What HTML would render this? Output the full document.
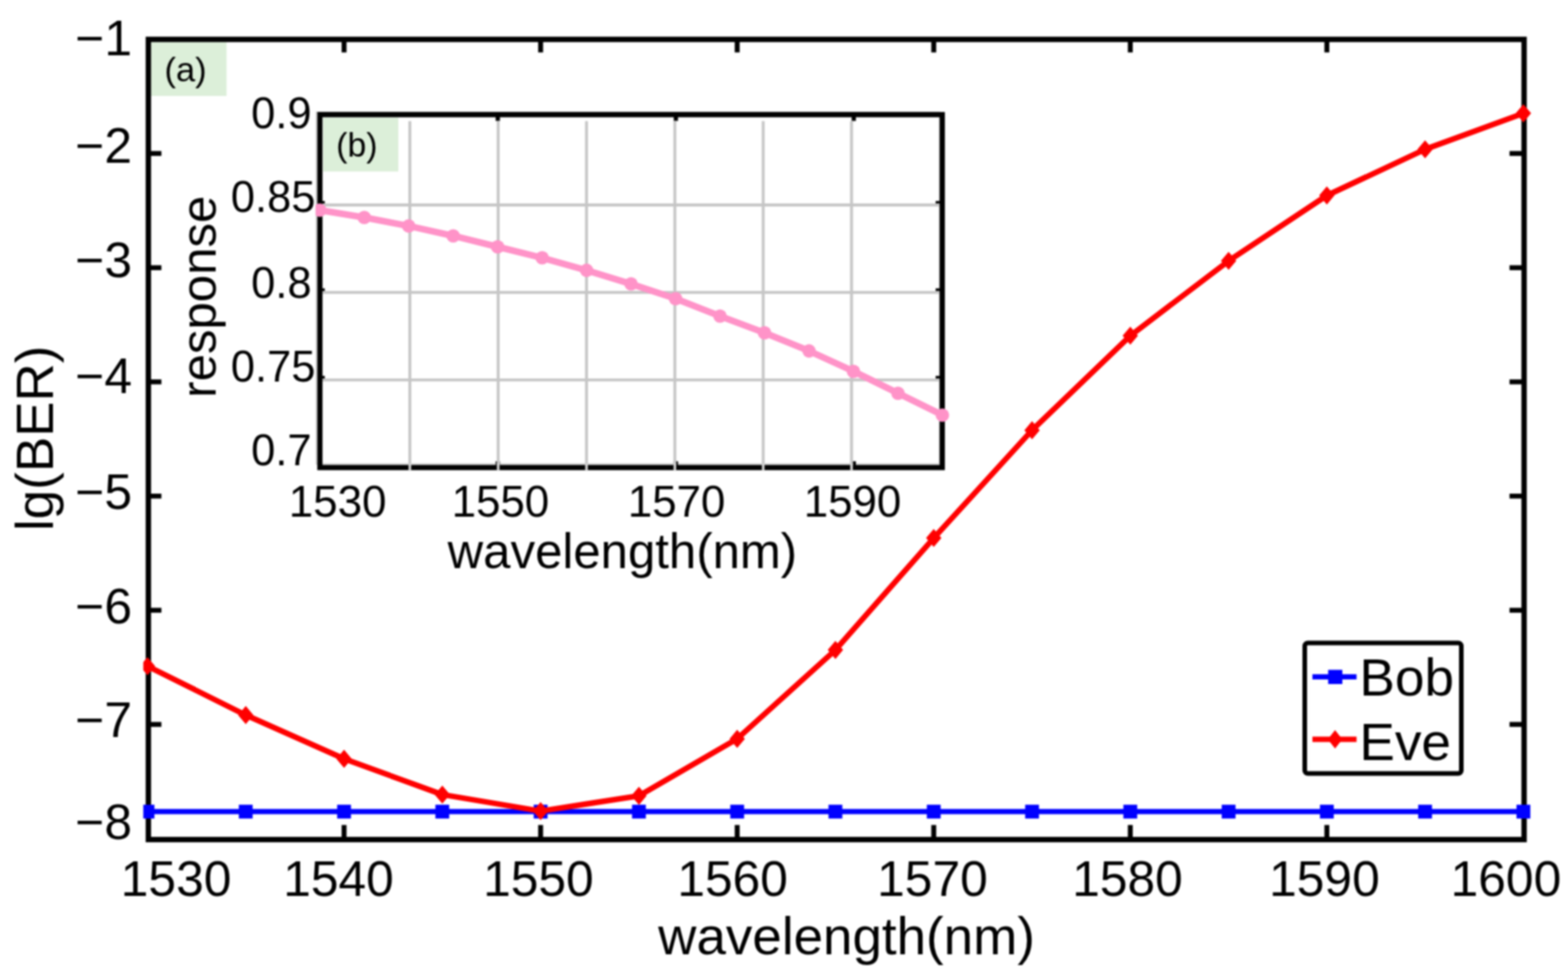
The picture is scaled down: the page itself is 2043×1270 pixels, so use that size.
<!DOCTYPE html>
<html lang="en"><head><meta charset="utf-8"><title>lg(BER)</title>
<style>
html,body{margin:0;padding:0;background:#fff;}
body{width:2043px;height:1270px;overflow:hidden;}
svg{display:block;filter:blur(0.8px);}
text{font-family:"Liberation Sans",Arial,Helvetica,sans-serif;fill:#000;}
.tk{font-size:64.8px;}
.lab{font-size:69px;}
.itk{font-size:56.6px;}
.ilab{font-size:64px;}
.tag{font-size:45px;}
.leg{font-size:69.2px;}
</style></head><body>
<svg width="2043" height="1270" viewBox="0 0 2043 1270">
<rect x="0" y="0" width="2043" height="1270" fill="#ffffff"/>
<rect x="196.8" y="55" width="98.4" height="70" fill="#dcefd9"/>
<g stroke="#000" stroke-width="6.4" fill="none">
<line x1="448.3" y1="1093.6" x2="448.3" y2="1074.6"/>
<line x1="448.3" y1="51.3" x2="448.3" y2="68.3"/>
<line x1="704.4" y1="1093.6" x2="704.4" y2="1074.6"/>
<line x1="704.4" y1="51.3" x2="704.4" y2="68.3"/>
<line x1="960.5" y1="1093.6" x2="960.5" y2="1074.6"/>
<line x1="960.5" y1="51.3" x2="960.5" y2="68.3"/>
<line x1="1216.6" y1="1093.6" x2="1216.6" y2="1074.6"/>
<line x1="1216.6" y1="51.3" x2="1216.6" y2="68.3"/>
<line x1="1472.7" y1="1093.6" x2="1472.7" y2="1074.6"/>
<line x1="1472.7" y1="51.3" x2="1472.7" y2="68.3"/>
<line x1="1728.8" y1="1093.6" x2="1728.8" y2="1074.6"/>
<line x1="1728.8" y1="51.3" x2="1728.8" y2="68.3"/>
<line x1="193.3" y1="943.6" x2="210.3" y2="943.6"/>
<line x1="1985.8" y1="943.6" x2="1966.8" y2="943.6"/>
<line x1="193.3" y1="794.9" x2="210.3" y2="794.9"/>
<line x1="1985.8" y1="794.9" x2="1966.8" y2="794.9"/>
<line x1="193.3" y1="646.2" x2="210.3" y2="646.2"/>
<line x1="1985.8" y1="646.2" x2="1966.8" y2="646.2"/>
<line x1="193.3" y1="497.4" x2="210.3" y2="497.4"/>
<line x1="1985.8" y1="497.4" x2="1966.8" y2="497.4"/>
<line x1="193.3" y1="348.7" x2="210.3" y2="348.7"/>
<line x1="1985.8" y1="348.7" x2="1966.8" y2="348.7"/>
<line x1="193.3" y1="199.9" x2="210.3" y2="199.9"/>
<line x1="1985.8" y1="199.9" x2="1966.8" y2="199.9"/>
</g>
<rect x="193.3" y="51.3" width="1792.5" height="1042.3" fill="none" stroke="#000" stroke-width="7"/>
<rect x="412" y="146" width="816" height="463" fill="#ffffff"/>
<rect x="421" y="153.2" width="98" height="70.2" fill="#dcefd9"/>
<rect x="412.2" y="146.2" width="811.8" height="458.2" fill="none" stroke="#d0d0d0" stroke-width="1.8"/>
<g stroke="#000" stroke-width="5.6" fill="none">
<line x1="648.6" y1="149.3" x2="648.6" y2="157.5"/>
<line x1="648.6" y1="609.0" x2="648.6" y2="600.8"/>
<line x1="880.6" y1="149.3" x2="880.6" y2="157.5"/>
<line x1="880.6" y1="609.0" x2="880.6" y2="600.8"/>
<line x1="1112.4" y1="149.3" x2="1112.4" y2="157.5"/>
<line x1="1112.4" y1="609.0" x2="1112.4" y2="600.8"/>
<line x1="416.8" y1="264.6" x2="423.2" y2="264.6"/>
<line x1="1227.7" y1="264.6" x2="1219.1" y2="264.6"/>
<line x1="416.8" y1="378.4" x2="423.2" y2="378.4"/>
<line x1="1227.7" y1="378.4" x2="1219.1" y2="378.4"/>
<line x1="416.8" y1="492.4" x2="423.2" y2="492.4"/>
<line x1="1227.7" y1="492.4" x2="1219.1" y2="492.4"/>
</g>
<g stroke="#c6c6c6" stroke-width="3.8" fill="none">
<line x1="419.8" y1="267.0" x2="1224.7" y2="267.0"/>
<line x1="419.8" y1="380.8" x2="1224.7" y2="380.8"/>
<line x1="419.8" y1="494.8" x2="1224.7" y2="494.8"/>
<line x1="534.0" y1="157.7" x2="534.0" y2="609.0"/>
<line x1="649.1" y1="157.7" x2="649.1" y2="609.0"/>
<line x1="764.2" y1="157.7" x2="764.2" y2="609.0"/>
<line x1="879.3" y1="157.7" x2="879.3" y2="609.0"/>
<line x1="994.4" y1="157.7" x2="994.4" y2="609.0"/>
<line x1="1109.5" y1="157.7" x2="1109.5" y2="609.0"/>
</g>
<rect x="416.8" y="149.3" width="810.9" height="459.7" fill="none" stroke="#000" stroke-width="6.8"/>
<g stroke="#d6d6d6" stroke-width="3.4" fill="none">
<line x1="534.0" y1="604.0" x2="534.0" y2="612.6"/>
<line x1="649.1" y1="604.0" x2="649.1" y2="612.6"/>
<line x1="764.2" y1="604.0" x2="764.2" y2="612.6"/>
<line x1="879.3" y1="604.0" x2="879.3" y2="612.6"/>
<line x1="994.4" y1="604.0" x2="994.4" y2="612.6"/>
<line x1="1109.5" y1="604.0" x2="1109.5" y2="612.6"/>
</g>
<clipPath id="cpi"><rect x="411.2" y="140" width="840" height="480"/></clipPath>
<g clip-path="url(#cpi)">
<polyline fill="none" stroke="#ff93c8" stroke-width="8.6" stroke-linejoin="round" stroke-linecap="butt" points="416.6,273.7 474.6,283.3 532.5,294.4 590.5,307.2 648.4,321.5 706.4,335.8 764.3,352.1 822.2,369.8 880.2,389.0 938.1,411.8 996.1,433.5 1054.1,457.1 1112.0,483.7 1170.0,512.2 1227.9,540.7"/>
<g fill="#ff93c8">
<circle cx="416.6" cy="273.7" r="8.8"/>
<circle cx="474.6" cy="283.3" r="8.8"/>
<circle cx="532.5" cy="294.4" r="8.8"/>
<circle cx="590.5" cy="307.2" r="8.8"/>
<circle cx="648.4" cy="321.5" r="8.8"/>
<circle cx="706.4" cy="335.8" r="8.8"/>
<circle cx="764.3" cy="352.1" r="8.8"/>
<circle cx="822.2" cy="369.8" r="8.8"/>
<circle cx="880.2" cy="389.0" r="8.8"/>
<circle cx="938.1" cy="411.8" r="8.8"/>
<circle cx="996.1" cy="433.5" r="8.8"/>
<circle cx="1054.1" cy="457.1" r="8.8"/>
<circle cx="1112.0" cy="483.7" r="8.8"/>
<circle cx="1170.0" cy="512.2" r="8.8"/>
<circle cx="1227.9" cy="540.7" r="8.8"/>
</g>
</g>
<clipPath id="cp"><rect x="186.7" y="40" width="1812" height="1060"/></clipPath>
<g clip-path="url(#cp)">
<polyline fill="none" stroke="#0000ff" stroke-width="6.8" points="192.2,1057.2 320.2,1057.2 448.3,1057.2 576.3,1057.2 704.4,1057.2 832.5,1057.2 960.5,1057.2 1088.5,1057.2 1216.6,1057.2 1344.7,1057.2 1472.7,1057.2 1600.8,1057.2 1728.8,1057.2 1856.8,1057.2 1984.9,1057.2"/>
<g fill="#0000ff">
<rect x="183.2" y="1048.2" width="18" height="18"/>
<rect x="311.2" y="1048.2" width="18" height="18"/>
<rect x="439.3" y="1048.2" width="18" height="18"/>
<rect x="567.3" y="1048.2" width="18" height="18"/>
<rect x="695.4" y="1048.2" width="18" height="18"/>
<rect x="823.5" y="1048.2" width="18" height="18"/>
<rect x="951.5" y="1048.2" width="18" height="18"/>
<rect x="1079.5" y="1048.2" width="18" height="18"/>
<rect x="1207.6" y="1048.2" width="18" height="18"/>
<rect x="1335.7" y="1048.2" width="18" height="18"/>
<rect x="1463.7" y="1048.2" width="18" height="18"/>
<rect x="1591.8" y="1048.2" width="18" height="18"/>
<rect x="1719.8" y="1048.2" width="18" height="18"/>
<rect x="1847.8" y="1048.2" width="18" height="18"/>
<rect x="1975.9" y="1048.2" width="18" height="18"/>
</g>
<polyline fill="none" stroke="#ff0000" stroke-width="7.3" stroke-linejoin="round" points="192.2,867.7 320.2,931.4 448.3,988.4 576.3,1035.0 704.4,1056.5 832.5,1036.6 960.5,962.4 1088.5,846.6 1216.6,700.8 1344.7,560.4 1472.7,437.3 1600.8,339.8 1728.8,254.6 1856.8,194.5 1984.9,147.6"/>
<g fill="#ff0000">
<polygon points="192.2,855.9 202.2,867.7 192.2,879.5 182.2,867.7"/>
<polygon points="320.2,919.6 330.2,931.4 320.2,943.2 310.2,931.4"/>
<polygon points="448.3,976.6 458.3,988.4 448.3,1000.2 438.3,988.4"/>
<polygon points="576.3,1023.2 586.3,1035.0 576.3,1046.8 566.3,1035.0"/>
<polygon points="704.4,1044.7 714.4,1056.5 704.4,1068.3 694.4,1056.5"/>
<polygon points="832.5,1024.8 842.5,1036.6 832.5,1048.4 822.5,1036.6"/>
<polygon points="960.5,950.6 970.5,962.4 960.5,974.2 950.5,962.4"/>
<polygon points="1088.5,834.8 1098.5,846.6 1088.5,858.4 1078.5,846.6"/>
<polygon points="1216.6,689.0 1226.6,700.8 1216.6,712.6 1206.6,700.8"/>
<polygon points="1344.7,548.6 1354.7,560.4 1344.7,572.2 1334.7,560.4"/>
<polygon points="1472.7,425.5 1482.7,437.3 1472.7,449.1 1462.7,437.3"/>
<polygon points="1600.8,328.0 1610.8,339.8 1600.8,351.6 1590.8,339.8"/>
<polygon points="1728.8,242.8 1738.8,254.6 1728.8,266.4 1718.8,254.6"/>
<polygon points="1856.8,182.7 1866.8,194.5 1856.8,206.3 1846.8,194.5"/>
<polygon points="1984.9,135.8 1994.9,147.6 1984.9,159.4 1974.9,147.6"/>
</g>
</g>
<rect x="1700" y="837.5" width="204" height="170" rx="4" ry="4" fill="#ffffff" stroke="#000" stroke-width="6"/>
<line x1="1710" y1="881.7" x2="1767.5" y2="881.7" stroke="#0000ff" stroke-width="6.8"/>
<rect x="1730.5" y="872.5" width="18.5" height="18.5" fill="#0000ff"/>
<line x1="1710" y1="963" x2="1767.5" y2="963" stroke="#ff0000" stroke-width="6.8"/>
<polygon points="1739.5,951 1749,963 1739.5,975 1730,963" fill="#ff0000"/>
<text class="leg" x="1771.3" y="906.3">Bob</text>
<text class="leg" x="1771.3" y="990">Eve</text>
<text class="tk" text-anchor="middle" x="229.4" y="1167">1530</text>
<text class="tk" text-anchor="middle" x="441.0" y="1167">1540</text>
<text class="tk" text-anchor="middle" x="701.5" y="1167">1550</text>
<text class="tk" text-anchor="middle" x="954.5" y="1167">1560</text>
<text class="tk" text-anchor="middle" x="1214.9" y="1167">1570</text>
<text class="tk" text-anchor="middle" x="1469.0" y="1167">1580</text>
<text class="tk" text-anchor="middle" x="1725.6" y="1167">1590</text>
<text class="tk" text-anchor="middle" x="1962.1" y="1167">1600</text>
<text class="tk" text-anchor="end" x="172" y="72.3">−1</text>
<text class="tk" text-anchor="end" x="172" y="212.0">−2</text>
<text class="tk" text-anchor="end" x="172" y="360.5">−3</text>
<text class="tk" text-anchor="end" x="172" y="512.2">−4</text>
<text class="tk" text-anchor="end" x="172" y="662.9">−5</text>
<text class="tk" text-anchor="end" x="172" y="811.6">−6</text>
<text class="tk" text-anchor="end" x="172" y="959.6">−7</text>
<text class="tk" text-anchor="end" x="172" y="1092.6">−8</text>
<text class="lab" text-anchor="middle" x="1103" y="1242.6">wavelength(nm)</text>
<text class="lab" text-anchor="middle" transform="translate(68.8,571) rotate(-90)">lg(BER)</text>
<text class="tag" text-anchor="middle" x="241.7" y="105.6">(a)</text>
<text class="tag" style="font-size:44px" text-anchor="middle" x="465" y="204.3">(b)</text>
<text class="itk" style="font-size:57.2px" text-anchor="middle" x="439.9" y="673">1530</text>
<text class="itk" style="font-size:57.2px" text-anchor="middle" x="652.0" y="673">1550</text>
<text class="itk" style="font-size:57.2px" text-anchor="middle" x="881.5" y="673">1570</text>
<text class="itk" style="font-size:57.2px" text-anchor="middle" x="1110.8" y="673">1590</text>
<text class="itk" text-anchor="end" x="406.0" y="166.5">0.9</text>
<text class="itk" text-anchor="end" x="411.0" y="276.0">0.85</text>
<text class="itk" text-anchor="end" x="406.0" y="387.7">0.8</text>
<text class="itk" text-anchor="end" x="411.0" y="497.0">0.75</text>
<text class="itk" text-anchor="end" x="406.0" y="606.3">0.7</text>
<text class="ilab" text-anchor="middle" x="811" y="739.5">wavelength(nm)</text>
<text class="ilab" text-anchor="middle" transform="translate(281,386.5) rotate(-90)">response</text>
</svg>
</body></html>
